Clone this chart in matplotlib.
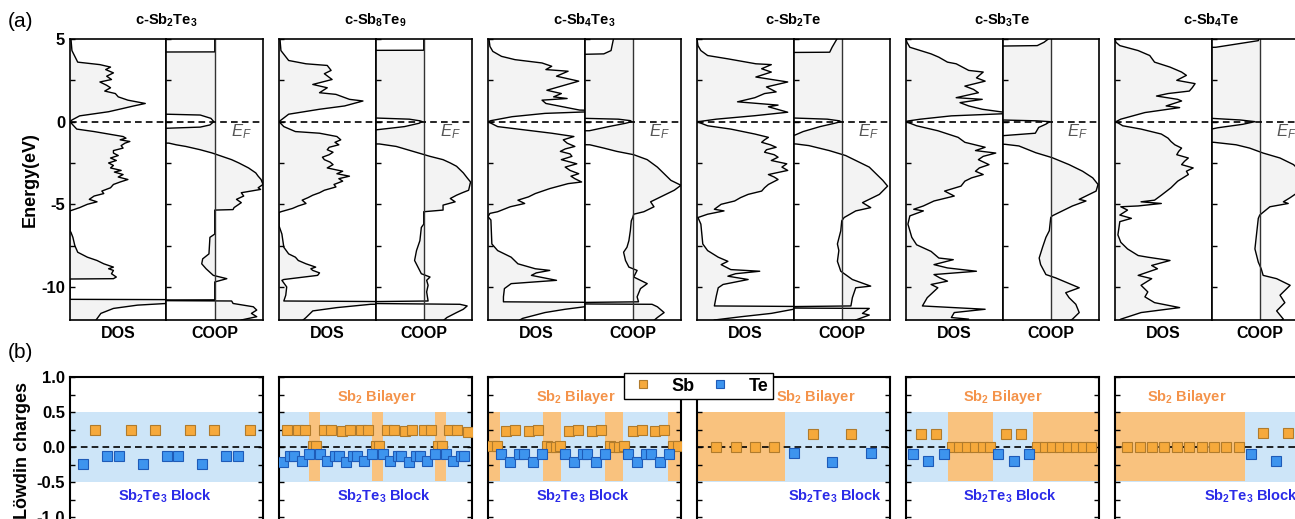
import numpy as np
import matplotlib
matplotlib.use('Agg')
import matplotlib.pyplot as plt
from matplotlib.ticker import MultipleLocator, NullLocator
from matplotlib.lines import Line2D

plt.rcParams['font.family'] = 'Liberation Sans'
plt.rcParams['mathtext.fontset'] = 'custom'
plt.rcParams['mathtext.rm'] = 'Liberation Sans'
plt.rcParams['mathtext.bf'] = 'Liberation Sans:bold'
plt.rcParams['mathtext.it'] = 'Liberation Sans:italic'
plt.rcParams['axes.unicode_minus'] = False

# ---- data: (energy eV, value); DOS in units of panel width, COOP in half-width units
titles = [r'c-Sb$_\mathbf{2}$Te$_\mathbf{3}$', r'c-Sb$_\mathbf{8}$Te$_\mathbf{9}$', r'c-Sb$_\mathbf{4}$Te$_\mathbf{3}$',
          r'c-Sb$_\mathbf{2}$Te', r'c-Sb$_\mathbf{3}$Te', r'c-Sb$_\mathbf{4}$Te']

dos_sb2te3 = [(5.0, 0.01), (4.3, 0.02), (3.6, 0.08), (3.45, 0.31), (3.3, 0.42), (3.15, 0.37), (2.95, 0.45), (2.75, 0.38),
              (2.55, 0.43), (2.4, 0.31), (2.2, 0.38), (2.05, 0.42), (1.85, 0.36), (1.7, 0.47), (1.5, 0.5), (1.3, 0.6),
              (1.1, 0.78), (0.95, 0.66), (0.8, 0.55), (0.6, 0.4), (0.35, 0.1), (0.1, 0.02), (0.0, 0.0),
              (-0.2, 0.03), (-0.45, 0.07), (-0.6, 0.25), (-0.77, 0.42), (-0.9, 0.55), (-1.0, 0.58), (-1.1, 0.52),
              (-1.2, 0.62), (-1.3, 0.57), (-1.45, 0.53), (-1.6, 0.55), (-1.75, 0.45), (-1.9, 0.45), (-2.05, 0.5),
              (-2.2, 0.42), (-2.35, 0.48), (-2.5, 0.4), (-2.65, 0.45), (-2.8, 0.42), (-2.95, 0.53), (-3.05, 0.46),
              (-3.2, 0.55), (-3.35, 0.5), (-3.5, 0.6), (-3.65, 0.52), (-3.8, 0.45), (-4.0, 0.42), (-4.2, 0.33),
              (-4.35, 0.35), (-4.5, 0.25), (-4.7, 0.2), (-4.85, 0.28), (-5.0, 0.18), (-5.2, 0.1), (-5.4, 0.0),
              (-6.6, 0.0), (-6.7, 0.01), (-7.0, 0.03), (-7.5, 0.05), (-7.9, 0.08), (-8.2, 0.18), (-8.4, 0.28),
              (-8.6, 0.35), (-8.8, 0.45), (-8.9, 0.4), (-9.0, 0.45), (-9.2, 0.43), (-9.4, 0.48), (-9.5, 0.45),
              (-9.52, 0.0), (-10.75, 0.0), (-10.8, 3.0), (-10.9, 1.5), (-11.0, 1.0), (-11.1, 0.7), (-11.3, 0.45),
              (-11.6, 0.32), (-12.0, 0.27)]
coop_sb2te3 = [(5.0, 0.0), (4.22, 0.0), (4.2, -3.0), (0.5, -3.0), (0.45, -1.0), (0.4, -0.3), (0.2, -0.08), (0.0, -0.02),
               (-0.2, -0.1), (-0.33, -0.3), (-0.4, -1.0), (-0.45, -3.0), (-1.28, -3.0), (-1.3, -0.95), (-1.4, -0.8),
               (-1.5, -0.6), (-1.7, -0.3), (-1.9, -0.05), (-2.1, 0.15), (-2.3, 0.35), (-2.5, 0.5), (-2.8, 0.7),
               (-3.1, 0.85), (-3.3, 0.9), (-3.5, 0.96), (-3.8, 1.0), (-4.0, 0.9), (-4.1, 0.95), (-4.3, 0.55),
               (-4.5, 0.6), (-4.7, 0.45), (-4.9, 0.55), (-5.2, 0.4), (-5.32, 0.38), (-5.35, 0.0), (-6.8, 0.0),
               (-7.0, -0.1), (-8.0, -0.12), (-8.3, -0.25), (-8.6, -0.27), (-8.9, -0.18), (-9.3, -0.03), (-9.5, 0.25),
               (-9.7, 0.0), (-10.78, 0.0), (-10.8, -3.0), (-10.85, 0.35), (-11.0, 0.38), (-11.2, 0.8), (-11.4, 0.87),
               (-11.6, 0.76), (-11.8, 0.87), (-12.0, 0.55)]

dos_sb8te9 = [(5.0, 0.01), (4.3, 0.02), (3.7, 0.1), (3.5, 0.28), (3.4, 0.5), (3.1, 0.54), (2.9, 0.47), (2.55, 0.55),
              (2.25, 0.35), (2.05, 0.5), (1.75, 0.42), (1.65, 0.59), (1.35, 0.73), (1.25, 0.87), (0.95, 0.68),
              (0.75, 0.42), (0.45, 0.1), (0.0, 0.0),
              (-0.3, 0.05), (-0.6, 0.17), (-0.7, 0.42), (-0.9, 0.6), (-1.1, 0.64), (-1.25, 0.58), (-1.4, 0.62),
              (-1.55, 0.52), (-1.7, 0.5), (-1.85, 0.56), (-2.0, 0.52), (-2.15, 0.45), (-2.3, 0.47), (-2.45, 0.53),
              (-2.6, 0.56), (-2.8, 0.5), (-3.0, 0.66), (-3.15, 0.6), (-3.3, 0.73), (-3.45, 0.62), (-3.6, 0.66),
              (-3.8, 0.57), (-3.95, 0.59), (-4.15, 0.47), (-4.3, 0.42), (-4.45, 0.35), (-4.6, 0.3), (-4.75, 0.24),
              (-4.95, 0.28), (-5.1, 0.2), (-5.25, 0.14), (-5.45, 0.02), (-5.5, 0.0),
              (-6.3, 0.0), (-6.8, 0.03), (-7.6, 0.05), (-8.0, 0.1), (-8.2, 0.17), (-8.4, 0.2), (-8.6, 0.28),
              (-8.8, 0.38), (-8.9, 0.33), (-9.0, 0.35), (-9.15, 0.42), (-9.3, 0.4), (-9.55, 0.05), (-9.6, 0.03),
              (-10.0, 0.08), (-10.5, 0.07), (-10.85, 0.05), (-10.95, 3.0), (-11.05, 0.95), (-11.25, 0.6),
              (-11.45, 0.35), (-11.85, 0.28), (-12.0, 0.25)]
coop_sb8te9 = [(5.0, 0.0), (4.32, 0.0), (4.3, -3.0), (0.3, -3.0), (0.22, -1.0), (0.15, -0.3), (0.05, -0.08), (0.0, -0.03),
               (-0.1, -0.1), (-0.3, -0.4), (-0.5, -1.0), (-0.52, -3.0), (-1.33, -3.0), (-1.35, -0.92), (-1.5, -0.57),
               (-1.8, -0.22), (-2.1, 0.13), (-2.3, 0.4), (-2.5, 0.55), (-2.7, 0.68), (-3.1, 0.82), (-3.4, 0.9),
               (-3.65, 0.97), (-3.9, 0.95), (-4.15, 0.93), (-4.3, 0.8), (-4.45, 0.68), (-4.65, 0.55), (-4.85, 0.65),
               (-5.05, 0.4), (-5.35, 0.4), (-5.45, 0.0), (-6.2, 0.0), (-6.4, -0.05), (-7.2, -0.08), (-7.8, -0.15),
               (-8.4, -0.19), (-8.8, -0.12), (-9.2, -0.05), (-9.4, 0.13), (-9.6, 0.06), (-9.9, 0.09), (-10.3, 0.06),
               (-10.85, 0.09), (-10.95, -3.0), (-11.05, 0.75), (-11.15, 0.9), (-11.35, 0.82), (-11.55, 0.68),
               (-11.85, 0.48), (-12.0, 0.42)]

dos_sb4te3 = [(5.0, 0.01), (4.55, 0.02), (4.25, 0.05), (3.95, 0.14), (3.75, 0.28), (3.55, 0.56), (3.35, 0.66),
              (3.15, 0.6), (3.05, 0.83), (2.75, 0.71), (2.45, 0.94), (2.1, 0.73), (1.9, 0.61), (1.7, 0.76), (1.5, 0.68),
              (1.4, 0.82), (1.3, 0.56), (1.1, 0.6), (0.7, 0.95), (0.65, 1.3), (0.5, 0.59), (0.3, 0.25), (0.06, 0.03),
              (0.0, 0.0),
              (-0.3, 0.1), (-0.5, 0.38), (-0.7, 0.66), (-0.9, 0.89), (-1.1, 0.78), (-1.3, 0.82), (-1.5, 0.9),
              (-1.65, 0.8), (-1.8, 0.75), (-1.95, 0.85), (-2.1, 0.87), (-2.3, 0.76), (-2.55, 0.92), (-2.75, 0.8),
              (-2.95, 0.85), (-3.15, 0.94), (-3.3, 0.86), (-3.45, 0.9), (-3.65, 0.97), (-3.75, 0.83), (-4.05, 0.64),
              (-4.35, 0.49), (-4.55, 0.42), (-4.75, 0.31), (-4.95, 0.38), (-5.15, 0.23), (-5.45, 0.1), (-5.55, 0.02),
              (-5.75, 0.0),
              (-5.95, 0.03), (-7.4, 0.04), (-7.8, 0.1), (-8.2, 0.24), (-8.6, 0.31), (-8.9, 0.49), (-9.0, 0.64),
              (-9.15, 0.5), (-9.3, 0.45), (-9.6, 0.71), (-9.8, 0.24), (-10.1, 0.17), (-10.6, 0.16), (-10.9, 0.16),
              (-11.0, 3.0), (-11.2, 1.0), (-11.35, 0.8), (-11.55, 0.59), (-11.9, 0.36), (-12.0, 0.33)]
coop_sb4te3 = [(5.0, -0.4), (4.3, -0.45), (4.1, -0.6), (3.95, -3.0), (0.3, -3.0), (0.2, -1.0), (0.15, -0.3),
               (0.06, -0.05), (0.0, -0.02), (-0.1, -0.15), (-0.3, -0.5), (-0.55, -0.9), (-0.6, -3.0), (-1.3, -3.0),
               (-1.4, -0.89), (-1.6, -0.6), (-1.8, -0.33), (-2.0, 0.02), (-2.3, 0.3), (-2.75, 0.51), (-3.15, 0.65),
               (-3.55, 0.79), (-3.75, 0.93), (-3.85, 1.0), (-4.15, 0.86), (-4.55, 0.58), (-4.85, 0.37), (-5.15, 0.44),
               (-5.45, 0.23), (-5.6, 0.02), (-5.8, 0.0), (-6.0, -0.03), (-6.6, -0.05), (-7.2, -0.08), (-7.6, -0.12),
               (-7.9, -0.19), (-8.4, -0.15), (-8.8, -0.08), (-9.0, 0.09), (-9.4, 0.02), (-9.8, 0.3), (-10.1, 0.16),
               (-10.6, 0.09), (-10.9, 0.12), (-11.0, -3.0), (-11.05, 0.4), (-11.2, 0.51), (-11.55, 0.65),
               (-11.85, 0.51), (-12.0, 0.45)]

dos_sb2te = [(5.0, 0.0), (4.6, 0.01), (4.3, 0.04), (4.0, 0.11), (3.8, 0.32), (3.5, 0.61), (3.45, 0.77), (3.2, 0.67),
             (3.0, 0.77), (2.7, 0.61), (2.4, 0.94), (2.1, 0.72), (1.8, 0.82), (1.7, 0.7), (1.45, 0.6), (1.2, 0.42),
             (1.0, 0.84), (0.9, 0.74), (0.57, 0.94), (0.36, 0.6), (0.15, 0.2), (0.02, 0.04), (0.0, 0.0),
             (-0.25, 0.11), (-0.45, 0.35), (-0.75, 0.6), (-0.95, 0.74), (-1.1, 0.7), (-1.25, 0.67), (-1.4, 0.76),
             (-1.55, 0.82), (-1.7, 0.72), (-1.85, 0.7), (-2.0, 0.8), (-2.15, 0.84), (-2.35, 0.77), (-2.55, 0.93),
             (-2.75, 0.88), (-2.95, 0.94), (-3.2, 0.74), (-3.35, 0.8), (-3.5, 0.84), (-3.8, 0.74), (-4.0, 0.7),
             (-4.2, 0.67), (-4.4, 0.53), (-4.6, 0.45), (-4.8, 0.39), (-5.0, 0.25), (-5.3, 0.18), (-5.4, 0.28),
             (-5.6, 0.11), (-5.8, 0.01),
             (-6.2, 0.04), (-7.4, 0.06), (-7.8, 0.11), (-8.2, 0.22), (-8.45, 0.32), (-8.65, 0.25), (-8.95, 0.35),
             (-9.05, 0.65), (-9.2, 0.4), (-9.35, 0.32), (-9.55, 0.53), (-9.85, 0.27), (-10.05, 0.22), (-10.55, 0.2),
             (-11.15, 0.18), (-11.25, 3.0), (-11.35, 1.0), (-11.6, 0.77), (-11.8, 0.46), (-12.0, 0.18)]
coop_sb2te = [(5.0, -0.1), (4.5, -0.2), (4.2, -0.25), (4.15, -3.0), (0.3, -3.0), (0.22, -1.0), (0.15, -0.3),
              (0.05, -0.05), (0.0, -0.02), (-0.1, -0.15), (-0.3, -0.45), (-0.6, -0.8), (-0.85, -1.0), (-0.88, -3.0),
              (-1.33, -3.0), (-1.35, -0.95), (-1.45, -0.68), (-1.75, -0.26), (-2.05, 0.08), (-2.45, 0.36),
              (-2.75, 0.57), (-3.15, 0.71), (-3.55, 0.85), (-3.9, 0.95), (-4.4, 0.78), (-4.7, 0.57), (-4.9, 0.43),
              (-5.2, 0.6), (-5.4, 0.29), (-5.8, 0.05), (-6.0, 0.0), (-6.6, -0.02), (-7.4, -0.09), (-7.8, -0.06),
              (-8.45, -0.09), (-9.05, -0.02), (-9.55, 0.22), (-9.95, 0.6), (-10.05, 0.29), (-10.65, 0.22),
              (-11.15, 0.19), (-11.25, -3.0), (-11.3, 0.57), (-11.6, 0.43), (-11.7, 0.57), (-12.0, 0.29)]

dos_sb3te = [(5.0, 0.0), (4.8, 0.01), (4.5, 0.04), (4.1, 0.26), (3.9, 0.34), (3.6, 0.43), (3.5, 0.52), (3.1, 0.65),
             (3.0, 0.8), (2.65, 0.73), (2.45, 0.82), (2.15, 0.61), (1.95, 0.7), (1.75, 0.75), (1.45, 0.52),
             (1.35, 0.79), (1.15, 0.56), (0.95, 0.65), (0.75, 0.79), (0.5, 1.1), (0.35, 0.47), (0.15, 0.15),
             (0.04, 0.02), (0.0, 0.0),
             (-0.25, 0.11), (-0.55, 0.33), (-0.95, 0.54), (-1.25, 0.61), (-1.55, 0.82), (-1.75, 0.72), (-1.9, 0.93),
             (-2.1, 0.8), (-2.3, 0.75), (-2.6, 0.86), (-2.8, 0.76), (-3.0, 0.72), (-3.2, 0.8), (-3.4, 0.68),
             (-3.6, 0.61), (-3.9, 0.57), (-4.2, 0.4), (-4.5, 0.5), (-4.8, 0.29), (-5.1, 0.18), (-5.3, 0.08),
             (-5.4, 0.18), (-5.7, 0.04),
             (-6.2, 0.02), (-7.0, 0.06), (-7.45, 0.11), (-7.85, 0.26), (-8.25, 0.34), (-8.35, 0.49), (-8.65, 0.29),
             (-8.85, 0.43), (-9.05, 0.73), (-9.25, 0.29), (-9.45, 0.35), (-9.65, 0.43), (-9.85, 0.26), (-10.05, 0.33),
             (-10.65, 0.22), (-11.15, 0.17), (-11.35, 0.82), (-11.55, 0.5), (-11.85, 0.47), (-11.95, 0.65),
             (-12.0, 0.5)]
coop_sb3te = [(5.0, -0.05), (4.8, -0.14), (4.6, -0.28), (4.5, -3.0), (0.3, -3.0), (0.1, -1.0), (0.05, -0.3),
              (0.0, -0.02), (-0.15, -0.1), (-0.35, -0.25), (-0.7, -0.32), (-0.85, -1.0), (-0.87, -3.0),
              (-1.35, -3.0), (-1.37, -0.95), (-1.47, -0.66), (-1.88, -0.31), (-2.18, 0.03), (-2.6, 0.38),
              (-3.0, 0.66), (-3.4, 0.87), (-3.8, 0.98), (-4.2, 0.94), (-4.5, 0.73), (-4.7, 0.59), (-4.8, 0.73),
              (-5.1, 0.45), (-5.4, 0.24), (-5.7, 0.03), (-5.8, 0.0), (-6.6, -0.03), (-7.0, -0.1), (-7.6, -0.17),
              (-8.25, -0.24), (-8.65, -0.21), (-9.25, -0.1), (-9.45, 0.1), (-10.05, 0.59), (-10.35, 0.31),
              (-10.65, 0.38), (-11.05, 0.52), (-11.55, 0.59), (-11.95, 0.45), (-12.0, 0.42)]

dos_sb4te = [(5.0, 0.0), (4.8, 0.01), (4.6, 0.05), (4.3, 0.24), (4.0, 0.36), (3.6, 0.41), (3.3, 0.57), (3.0, 0.69),
             (2.8, 0.74), (2.5, 0.64), (2.3, 0.83), (2.05, 0.8), (1.85, 0.77), (1.7, 0.55), (1.55, 0.43), (1.35, 0.65),
             (1.25, 0.69), (0.95, 0.53), (0.85, 0.67), (0.55, 0.31), (0.15, 0.06), (0.0, 0.01),
             (-0.25, 0.08), (-0.45, 0.27), (-0.75, 0.48), (-1.0, 0.55), (-1.2, 0.58), (-1.4, 0.62), (-1.6, 0.69),
             (-1.8, 0.66), (-2.0, 0.64), (-2.2, 0.76), (-2.4, 0.72), (-2.6, 0.69), (-2.8, 0.81), (-3.0, 0.74),
             (-3.2, 0.76), (-3.6, 0.65), (-4.0, 0.58), (-4.45, 0.48), (-4.75, 0.41), (-4.85, 0.27), (-4.95, 0.48),
             (-5.1, 0.24), (-5.15, 0.06), (-5.35, 0.13), (-5.65, 0.05), (-5.85, 0.17), (-6.05, 0.05), (-6.85, 0.03),
             (-7.3, 0.06), (-7.7, 0.13), (-8.1, 0.24), (-8.2, 0.34), (-8.4, 0.57), (-8.7, 0.38), (-8.9, 0.44),
             (-9.3, 0.24), (-9.5, 0.38), (-9.9, 0.27), (-10.3, 0.34), (-10.6, 0.31), (-10.95, 0.41), (-11.25, 0.67),
             (-11.55, 0.27), (-11.95, 0.06), (-12.0, 0.05)]
coop_sb4te = [(5.0, -0.02), (4.9, -0.03), (4.5, -0.91), (4.4, -3.0), (0.3, -3.0), (0.2, -1.0), (0.1, -0.4),
              (0.0, -0.1), (-0.16, -0.35), (-0.37, -0.87), (-0.45, -1.0), (-0.5, -3.0), (-1.2, -3.0), (-1.25, -0.95),
              (-1.4, -0.49), (-1.6, -0.21), (-1.9, 0.07), (-2.2, 0.42), (-2.6, 0.7), (-3.0, 0.84), (-3.5, 0.95),
              (-4.0, 0.9), (-4.3, 0.78), (-4.6, 0.63), (-4.85, 0.49), (-4.95, 0.59), (-5.15, 0.21), (-5.65, 0.0),
              (-5.85, -0.03), (-6.9, -0.07), (-7.7, -0.1), (-8.5, -0.03), (-8.9, 0.03), (-9.3, 0.07), (-9.5, 0.35),
              (-9.9, 0.63), (-10.5, 0.42), (-10.95, 0.52), (-11.45, 0.35), (-11.95, 0.49), (-12.0, 0.45)]

dos_all = [dos_sb2te3, dos_sb8te9, dos_sb4te3, dos_sb2te, dos_sb3te, dos_sb4te]
coop_all = [coop_sb2te3, coop_sb8te9, coop_sb4te3, coop_sb2te, coop_sb3te, coop_sb4te]

# ---- Lowdin charges, atom by atom (S = Sb, T = Te)
atoms_sb2te3 = "TSTTSTSTTSTSTTS"
q_sb2te3 = [-0.24, 0.25, -0.13, -0.13, 0.25, -0.24, 0.25, -0.13, -0.13, 0.25, -0.24, 0.25, -0.13, -0.13, 0.25]

atoms_sb8te9 = "TSTTSTST" + "SS" + "TSTSTTSTSTTSTST" + "SS" + "TSTSTTSTSTTSTST" + "SS" + "TSTSTTS"
q_sb8te9 = [-0.21, 0.25, -0.13, -0.13, 0.24, -0.20, 0.25, -0.10,
            0.01, 0.01,
            -0.10, 0.24, -0.20, 0.25, -0.13, -0.13, 0.23, -0.21, 0.25, -0.13, -0.13, 0.24, -0.20, 0.25, -0.10,
            0.01, 0.01,
            -0.10, 0.24, -0.20, 0.25, -0.13, -0.13, 0.23, -0.21, 0.25, -0.13, -0.13, 0.24, -0.20, 0.25, -0.10,
            0.01, 0.01,
            -0.10, 0.24, -0.20, 0.25, -0.13, -0.13, 0.22]

atoms_sb4te3 = "SS" + "TSTSTTSTST" + "SSSS" + "TSTSTTSTST" + "SSSS" + "TSTSTTSTST" + "SS"
q_sb4te3 = [0.01, 0.01,
            -0.10, 0.23, -0.22, 0.25, -0.10, -0.10, 0.23, -0.22, 0.25, -0.10,
            0.01, 0.0, 0.0, 0.01,
            -0.10, 0.23, -0.22, 0.25, -0.10, -0.10, 0.23, -0.22, 0.25, -0.10,
            0.01, 0.0, 0.0, 0.01,
            -0.10, 0.23, -0.22, 0.25, -0.10, -0.10, 0.23, -0.22, 0.25, -0.10,
            0.01, 0.01]

atoms_sb2te = "SSSSTSTST"
q_sb2te = [0.0, 0.0, 0.0, 0.0, -0.09, 0.19, -0.21, 0.19, -0.09]

atoms_sb3te = "TSTST" + "SSSSSS" + "TSTST" + "SSSSSSSS"
q_sb3te = [-0.10, 0.19, -0.20, 0.19, -0.10,
           0.0, 0.0, 0.0, 0.0, 0.0, 0.0,
           -0.10, 0.19, -0.20, 0.19, -0.10,
           0.0, 0.0, 0.0, 0.0, 0.0, 0.0, 0.0, 0.0]

atoms_sb4te = "SSSSSSSSSS" + "TSTST"
q_sb4te = [0.0, 0.0, 0.0, 0.0, 0.0, 0.0, 0.0, 0.0, 0.0, 0.0, -0.10, 0.20, -0.20, 0.20, -0.10]

atoms_all = [atoms_sb2te3, atoms_sb8te9, atoms_sb4te3, atoms_sb2te, atoms_sb3te, atoms_sb4te]
q_all = [q_sb2te3, q_sb8te9, q_sb4te3, q_sb2te, q_sb3te, q_sb4te]

# bilayer (orange) regions in atom-index coordinates, and x range of each panel
bilayer_spans = [[], [(8.0, 11.0), (25.0, 28.0), (42.0, 45.0)],
                 [(0.0, 2.8), (12.3, 16.1), (26.0, 29.8), (39.8, 43.0)],
                 [(0.0, 4.58)], [(5.55, 11.3), (16.5, 25.1)], [(0.0, 10.5)]]
xlims = [(-0.1, 16.1), (-0.1, 52.1), (0.05, 42.7), (0.0, 10.0), (0.13, 25.0), (0.0, 15.6)]

# ---- styling
W, H = 1295, 519
fill_gray = '#F3F3F3'
blue_band = '#CDE5F8'
orange_band = '#F9C27E'
sb_face, sb_edge = '#F6A93B', '#B07B2C'
te_face, te_edge = '#3D94EE', '#1E5BB8'
bilayer_txt_x = [None, 0.30, 0.25, 0.41, 0.295, 0.166]
block_txt_x = [0.25, 0.30, 0.25, 0.47, 0.295, 0.46]

fig = plt.figure(figsize=(W / 100, H / 100), dpi=100)


def fy(py):
    return 1 - py / H


for i in range(6):
    left = 70 + 209 * i
    axd = fig.add_axes([left / W, fy(320), 96.5 / W, 281 / H])
    axc = fig.add_axes([(left + 96.5) / W, fy(320), 96.5 / W, 281 / H])

    e, v = np.array(dos_all[i]).T
    axd.fill_betweenx(e, 0, v, color=fill_gray, lw=0)
    axd.plot(v, e, color='k', lw=1.0)
    axd.set_xlim(0, 1)

    e, c = np.array(coop_all[i]).T
    axc.fill_betweenx(e, 0, c, color=fill_gray, lw=0)
    axc.plot(c, e, color='k', lw=1.0)
    axc.axvline(0, color='#333333', lw=1.0)
    axc.set_xlim(-1, 1)
    axc.text(0.55, -0.6, r'$\mathit{E}_\mathit{F}$', color='#555555', fontsize=12, ha='center', va='center')

    for ax in (axd, axc):
        ax.set_ylim(-12, 5)
        ax.axhline(0, color='k', lw=1.2, ls=(0, (4, 2.5)))
        ax.xaxis.set_major_locator(NullLocator())
        ax.yaxis.set_major_locator(MultipleLocator(5))
        ax.yaxis.set_minor_locator(MultipleLocator(2.5))
        ax.tick_params(axis='y', which='both', direction='in', length=3.5, width=1.0, labelsize=12)
        for s in ax.spines.values():
            s.set_linewidth(1.2)
        for t in ax.get_yticklabels():
            t.set_fontweight('bold')
        if ax is axc or i > 0:
            ax.set_yticklabels([])
    axd.set_xlabel('DOS', fontsize=11.5, fontweight='bold', labelpad=4)
    axc.set_xlabel('COOP', fontsize=11.5, fontweight='bold', labelpad=4)
    fig.text((left + 96.5) / W, fy(20), titles[i], ha='center', va='center', fontsize=10.5, fontweight='bold')
    if i == 0:
        axd.set_ylabel('Energy(eV)', fontsize=13, fontweight='bold', labelpad=2)

    # ---- charges panel
    axb = fig.add_axes([left / W, fy(524), 193 / W, 147 / H])
    x0, x1 = xlims[i]
    axb.fill_between([x0, x1], -0.5, 0.5, color=blue_band, lw=0, zorder=0.5)
    for a, b in bilayer_spans[i]:
        axb.fill_between([a, b], -0.48, 0.5, color=orange_band, lw=0, zorder=0.6)
    axb.axhline(0, color='k', lw=1.2, ls=(0, (4, 2.5)), zorder=2)
    idx = np.arange(1, len(q_all[i]) + 1)
    q = np.array(q_all[i])
    is_sb = np.array([ch == 'S' for ch in atoms_all[i]])
    axb.plot(idx[is_sb], q[is_sb], ls='', marker='s', ms=6.5, mfc=sb_face, mec=sb_edge, mew=0.8, zorder=3)
    axb.plot(idx[~is_sb], q[~is_sb], ls='', marker='s', ms=6.5, mfc=te_face, mec=te_edge, mew=0.8, zorder=3)
    axb.set_xlim(x0, x1)
    axb.set_ylim(-1.1, 1.0)
    axb.xaxis.set_major_locator(NullLocator())
    axb.yaxis.set_major_locator(MultipleLocator(0.5))
    axb.yaxis.set_minor_locator(MultipleLocator(0.25))
    axb.tick_params(axis='y', which='both', direction='in', left=True, right=True, length=3.5, width=1.0,
                    labelsize=12)
    for s in axb.spines.values():
        s.set_linewidth(1.5)
    if i == 0:
        axb.set_yticks([-1.0, -0.5, 0.0, 0.5, 1.0])
        axb.set_yticklabels(['-1.0', '-0.5', '0.0', '0.5', '1.0'], fontweight='bold')
        axb.set_ylabel('Löwdin charges', fontsize=13, fontweight='bold', labelpad=4)
    else:
        axb.set_yticklabels([])
    if bilayer_txt_x[i] is not None:
        axb.text(bilayer_txt_x[i], 0.72, r'Sb$_\mathbf{2}$ Bilayer', transform=axb.get_yaxis_transform(),
                 color='#F4934A', fontsize=10.5, fontweight='bold', ha='left', va='center')
    axb.text(block_txt_x[i], -0.7, r'Sb$_\mathbf{2}$Te$_\mathbf{3}$ Block', transform=axb.get_yaxis_transform(),
             color='#2A2AE8', fontsize=10.5, fontweight='bold', ha='left', va='center')

handles = [Line2D([], [], ls='', marker='s', ms=6, mfc=sb_face, mec=sb_edge, mew=0.8),
           Line2D([], [], ls='', marker='s', ms=6, mfc=te_face, mec=te_edge, mew=0.8)]
fig.legend(handles, ['Sb', 'Te'], ncol=2, loc='upper left', bbox_to_anchor=(624 / W, fy(373)),
           frameon=True, fancybox=False, edgecolor='black', framealpha=1,
           prop=dict(weight='bold', size=13), handletextpad=0.8, columnspacing=0.6, borderpad=0.25,
           handlelength=1.6, borderaxespad=0)

fig.text(8 / W, fy(22), '(a)', fontsize=15, ha='left', va='center')
fig.text(8 / W, fy(352), '(b)', fontsize=15, ha='left', va='center')

fig.savefig('out.png', dpi=100)
